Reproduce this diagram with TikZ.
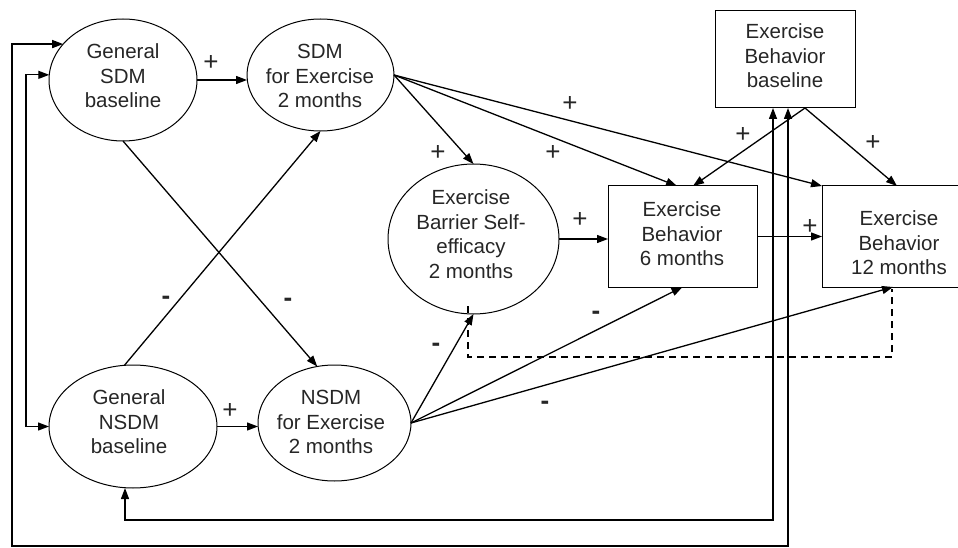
\documentclass[tikz,border=0pt]{standalone}
\usepackage{fontspec}
\setmainfont{Liberation Sans}
\usetikzlibrary{arrows.meta,shapes.geometric}
\definecolor{txtc}{HTML}{262626}
\begin{document}
\begin{tikzpicture}[x=1pt,y=-1pt,
  ell/.style={draw, ellipse, line width=1pt, inner sep=0pt, outer sep=0pt},
  boxn/.style={draw, rectangle, line width=1pt, inner sep=0pt, outer sep=0pt},
  lbl/.style={align=center, text=txtc, font=\fontsize{20.5}{24.5}\selectfont, inner sep=0pt},
  arr/.style={-{Triangle[length=11pt,width=8pt]}, line width=1.3pt},
  biarr/.style={{Triangle[length=11pt,width=8pt]}-{Triangle[length=11pt,width=8pt]}, line width=1.3pt},
  dsh/.style={line width=1.1pt, dash pattern=on 7pt off 5pt},
  sgn/.style={font=\fontsize{26}{26}\selectfont, inner sep=0pt, text=txtc},
  neg/.style={font=\bfseries\fontsize{26}{26}\selectfont, inner sep=0pt, text=txtc}
]
\useasboundingbox (0,0) rectangle (958,548);

% ellipses
\node[ell, minimum width=148pt, minimum height=122pt] (gsdm) at (123,80) {};
\node[ell, minimum width=147pt, minimum height=112pt] (sdm) at (320.5,75) {};
\node[ell, minimum width=168pt, minimum height=123pt] (gnsdm) at (133,426.5) {};
\node[ell, minimum width=153pt, minimum height=116pt] (nsdm) at (334.5,423) {};
\node[ell, minimum width=171pt, minimum height=150pt] (bse) at (473.5,239) {};
% boxes
\node[boxn, minimum width=140pt, minimum height=97pt] (ebb) at (785,59.5) {};
\node[boxn, minimum width=149pt, minimum height=101pt] (eb6) at (682.5,236.5) {};
\node[boxn, minimum width=154pt, minimum height=101pt] (eb12) at (899,236.5) {};

% texts
\node[lbl] (gsdmt) at (123,76) {General\\SDM\\baseline};
\node[lbl] (sdmt) at (320,76) {SDM\\for Exercise\\2 months};
\node[lbl] (gnsdmt) at (129,422) {General\\NSDM\\baseline};
\node[lbl] (nsdmt) at (331,422) {NSDM\\for Exercise\\2 months};
\node[lbl] (bset) at (471,234) {Exercise\\Barrier Self-\\efficacy\\2 months};
\node[lbl] (ebbt) at (785,56) {Exercise\\Behavior\\baseline};
\node[lbl] (eb6t) at (682,234) {Exercise\\Behavior\\6 months};
\node[lbl] (eb12t) at (899,243) {Exercise\\Behavior\\12 months};

% paths
\draw[arr] (gsdm.east) -- (gsdm.east -| sdm.west);
\draw[arr] (gnsdm.east) -- (gnsdm.east -| nsdm.west);
\draw[arr] (gsdm.south) -- (nsdm.107);
\draw[arr] (gnsdm.98) -- (sdm.south);
\draw[arr] (sdm.east) -- (bse.north);
\draw[arr] (sdm.east) -- ([xshift=-5.5pt]eb6.north);
\draw[arr] (sdm.east) -- (eb12.north west);
\draw[arr] (bse.east) -- (bse.east -| eb6.west);
\draw[arr] (eb6.east) -- (eb6.east -| eb12.west);
\draw[arr] ([xshift=20pt]ebb.south) -- ([xshift=10.5pt]eb6.north);
\draw[arr] ([xshift=20pt]ebb.south) -- ([xshift=-2pt]eb12.north);
\draw[arr] (nsdm.east) -- (bse.south);
\draw[arr] (nsdm.east) -- (eb6.south);
\draw[arr] (nsdm.east) -- ([xshift=-6pt]eb12.south);

% dashed
\coordinate (d1) at (468,306);
\coordinate (d2) at (892,357);
\coordinate (d3) at (892,289);
\draw[dsh] (d1) |- (d2) -- (d3);

% covariances
\coordinate (c1) at (12,546);
\coordinate (c2) at (26,250);
\coordinate (c3) at (125,520);
\draw[biarr] (gsdm.149) -| (c1) -| ([xshift=3pt]ebb.south);
\draw[biarr] (gsdm.176) -| (c2) |- (gnsdm.west);
\draw[biarr] ([xshift=-8pt]gnsdm.south) |- (c3) -| ([xshift=-12pt]ebb.south);

% signs
\node[sgn] (s1) at (211,63) {+};
\node[sgn] (s2) at (230,411) {+};
\node[neg] (s3) at (288,302) {-};
\node[neg] (s4) at (166,300) {-};
\node[sgn] (s5) at (438,153) {+};
\node[sgn] (s6) at (553,153) {+};
\node[sgn] (s7) at (570,104) {+};
\node[sgn] (s8) at (580,220) {+};
\node[sgn] (s9) at (810,227) {+};
\node[sgn] (s10) at (743,135) {+};
\node[sgn] (s11) at (873,143) {+};
\node[neg] (s12) at (436,347) {-};
\node[neg] (s13) at (596,315) {-};
\node[neg] (s14) at (545,405) {-};
\end{tikzpicture}
\end{document}
